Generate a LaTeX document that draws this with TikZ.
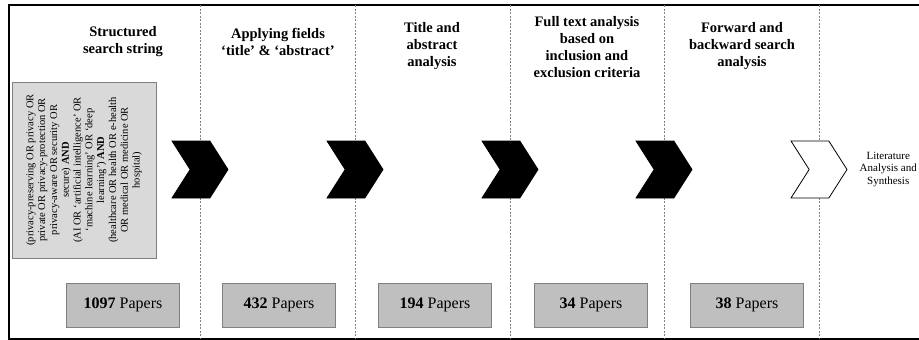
\documentclass[tikz,border=0pt]{standalone}
\usepackage{fontspec}
\setmainfont{Liberation Serif}
\usepackage{tikz}
\usetikzlibrary{shapes.symbols, positioning}
\tikzset{
    heading/.style={align=center, inner sep=0pt, font=\fontsize{14.5}{17}\selectfont\bfseries},
    querybox/.style={rectangle, draw=gray, fill=gray!30, line width=0.8pt, minimum width=144pt, minimum height=176pt},
    querytext/.style={rotate=90, align=center, inner sep=0pt, font=\fontsize{10.5}{11.8}\selectfont},
    countbox/.style={rectangle, draw=gray, fill=gray!50, line width=1pt, minimum width=113pt, minimum height=44pt, font=\fontsize{16}{19}\selectfont},
    chevron/.style={signal, signal from=west, signal to=east, signal pointer angle=115, minimum width=56pt, minimum height=57pt, inner sep=0pt, draw=black, line width=0.8pt},
    separator/.style={draw=gray, dash pattern=on 2pt off 1.5pt, line width=0.6pt},
    outcome/.style={align=center, inner sep=0pt, font=\fontsize{11}{12.5}\selectfont}
}

\begin{document}
\begin{tikzpicture}[x=1pt, y=-1pt]
    \useasboundingbox (0,0) rectangle (919,340);

    % Frame and column separators
    \draw[line width=1.2pt] (935,5) -- (9,5) -- (9,339) -- (935,339);
    \foreach \x in {200, 355, 510, 664, 819}
        \draw[separator] (\x,5) -- (\x,339);

    % Stage headings
    \node[heading] (head1) at (123,42) {Structured\\search string};
    \node[heading] (head2) at (278,42) {Applying fields\\`title' \& `abstract'};
    \node[heading] (head3) at (432,46.5) {Title and\\abstract\\analysis};
    \node[heading] (head4) at (587,47) {Full text analysis\\based on\\inclusion and\\exclusion criteria};
    \node[heading] (head5) at (742,46.5) {Forward and\\backward search\\analysis};

    % Search string
    \node[querybox] (query) at (84,170) {};
    \node[querytext] (querystr) at (query.center) {(privacy-preserving OR privacy OR\\private OR privacy-protection OR\\privacy-aware OR security OR\\secure) \textbf{AND}\\(AI OR `artificial intelligence' OR\\`machine learning' OR `deep\\learning') \textbf{AND}\\(healthcare OR health OR e-health\\OR medical OR medicine OR\\hospital)};

    % Paper counts
    \node[countbox] (count1) at (123,305) {\textbf{1097} Papers};
    \node[countbox, right=42pt of count1] (count2) {\textbf{432} Papers};
    \node[countbox, right=42pt of count2] (count3) {\textbf{194} Papers};
    \node[countbox, right=42pt of count3] (count4) {\textbf{34} Papers};
    \node[countbox, right=42pt of count4] (count5) {\textbf{38} Papers};

    % Chevrons between stages
    \foreach \x [count=\i] in {200, 355, 510, 664}
        \node[chevron, fill=black] (chev\i) at (\x,169.5) {};
    \node[chevron, fill=white] (chev5) at (819,169.5) {};

    % Result
    \node[outcome, right=12pt of chev5] (result) {Literature\\Analysis and\\Synthesis};

\end{tikzpicture}
\end{document}
